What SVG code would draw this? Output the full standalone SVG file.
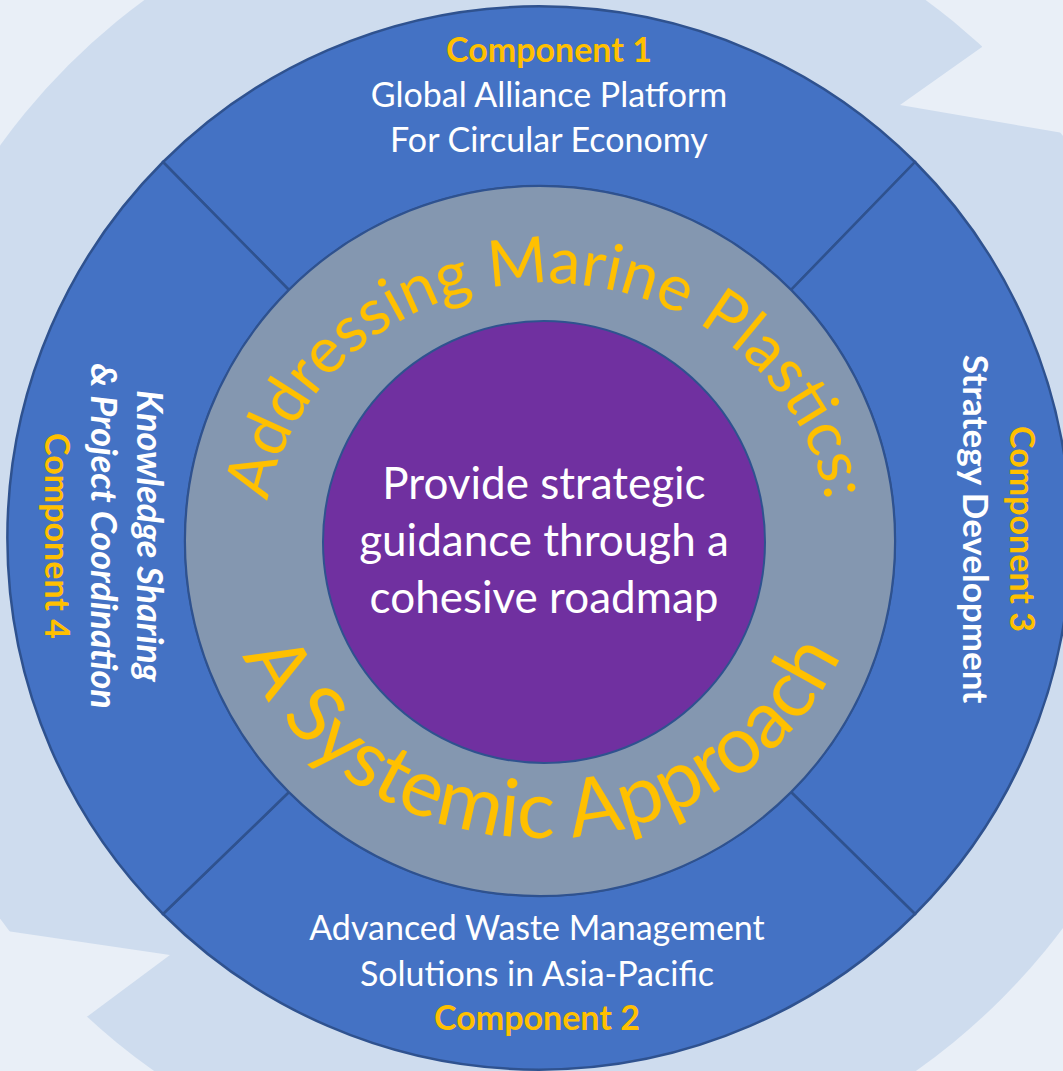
<svg xmlns="http://www.w3.org/2000/svg" width="1063" height="1071" viewBox="0 0 1063 1071">
  <style>
    .bg { fill: #E9EFF7; }
    .band { fill: #CEDCEE; }
    .sector { fill: #4472C4; stroke: #2F528F; stroke-width: 2.5; stroke-linejoin: miter; }
    .ring { fill: #8497B0; stroke: #2F528F; stroke-width: 2; }
    .core { fill: #7030A0; stroke: #2F528F; stroke-width: 2; }
    .t { font-family: Lato, "Open Sans", sans-serif; text-anchor: middle; }
    .white { fill: #FFFFFF; }
    .gold { fill: #FFC000; }
    .bold { font-weight: 700; }
    .ital { font-style: italic; }
    .comp { font-size: 34px; }
    .compL { font-size: 36px; }
    .compR { font-size: 35px; }
    .center { font-size: 44px; }
  </style>
  <defs>
    <path id="arcTop" d="M 264 545 A 283 262 0 0 1 830 545"/>
    <path id="arcBottom" d="M 218 541 A 324 297 0 0 0 866 541"/>
  </defs>

  <g id="background">
    <rect class="bg" x="0" y="0" width="1063" height="1071"/>
    <circle class="band" cx="535" cy="532" r="660"/>
    <polygon class="bg" points="982,47 900,105 1063,133 1063,0 982,0"/>
    <polygon class="bg" points="0,930 170,955 88,1016 0,1071"/>
  </g>

  <g id="component1">
    <path class="sector" d="M 163 162 A 532 532 0 0 1 915 162 L 791 290 A 355 355 0 0 0 289 290 Z"/>
    <text class="t comp gold bold" x="549" y="62">Component 1</text>
    <text class="t comp white" x="549" y="107">Global Alliance Platform</text>
    <text class="t comp white" x="549" y="152">For Circular Economy</text>
  </g>

  <g id="component3">
    <path class="sector" d="M 915 162 A 532 532 0 0 1 915 914 L 791 792 A 355 355 0 0 0 791 290 Z"/>
    <g transform="translate(1010,529) rotate(90)">
      <text class="t comp gold bold" x="0" y="0">Component 3</text>
      <text class="t compR white bold" x="0" y="47">Strategy Development</text>
    </g>
  </g>

  <g id="component2">
    <path class="sector" d="M 915 914 A 532 532 0 0 1 163 914 L 289 792 A 355 355 0 0 0 791 792 Z"/>
    <text class="t comp white" x="537" y="940">Advanced Waste Management</text>
    <text class="t comp white" x="537" y="986">Solutions in Asia-Pacific</text>
    <text class="t comp gold bold" x="537" y="1030">Component 2</text>
  </g>

  <g id="component4">
    <path class="sector" d="M 163 914 A 532 532 0 0 1 163 162 L 289 290 A 355 355 0 0 0 289 792 Z"/>
    <g transform="translate(137,536) rotate(90)">
      <text class="t compL white bold ital" x="0" y="0">Knowledge Sharing</text>
      <text class="t compL white bold ital" x="0" y="46">&amp; Project Coordination</text>
      <text class="t comp gold bold" x="0" y="92">Component 4</text>
    </g>
  </g>

  <g id="systemic-ring">
    <circle class="ring" cx="540" cy="541" r="355"/>
    <text class="t gold" font-size="64"><textPath href="#arcTop" startOffset="50%">Addressing Marine Plastics:</textPath></text>
    <text class="t gold" font-size="80"><textPath href="#arcBottom" startOffset="50%">A Systemic Approach</textPath></text>
  </g>

  <g id="core">
    <circle class="core" cx="544" cy="542" r="221"/>
    <text class="t center white" x="544" y="499">Provide strategic</text>
    <text class="t center white" x="544" y="556">guidance through a</text>
    <text class="t center white" x="544" y="613">cohesive roadmap</text>
  </g>

  <g id="connectors"></g>
</svg>
